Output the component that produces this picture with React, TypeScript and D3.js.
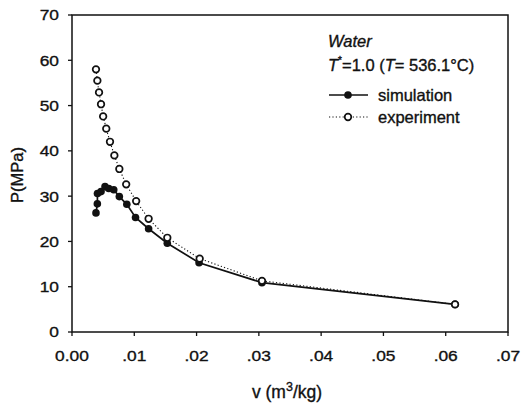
import React from "react";
import * as d3 from "d3";

const simV = [0.00385, 0.00407, 0.00409, 0.00466, 0.0053, 0.0059, 0.0067, 0.0076, 0.0088, 0.0102, 0.0123, 0.0153, 0.0204, 0.0305, 0.0615];
const simP = [26.3, 28.3, 30.6, 31.0, 32.1, 31.7, 31.4, 29.9, 28.2, 25.3, 22.8, 19.6, 15.3, 10.9, 6.1];
const expV = [0.00385, 0.00407, 0.00434, 0.00466, 0.0050, 0.0055, 0.0061, 0.0068, 0.0076, 0.0087, 0.0103, 0.0123, 0.0153, 0.0205, 0.0305, 0.0615];
const expP = [58.0, 55.5, 52.9, 50.3, 47.6, 44.9, 42.0, 39.0, 36.0, 32.6, 28.9, 25.0, 20.8, 16.2, 11.3, 6.1];
const xTicks = [0, 0.01, 0.02, 0.03, 0.04, 0.05, 0.06, 0.07];
const xTickLabels = ["0.00", ".01", ".02", ".03", ".04", ".05", ".06", ".07"];
const yTicks = [0, 10, 20, 30, 40, 50, 60, 70];

export default function App() {
  const W = 528, H = 405;
  const L = 72, R = 508, T = 15, B = 332;
  const x = d3.scaleLinear().domain([0, 0.07]).range([L, R]);
  const y = d3.scaleLinear().domain([0, 70]).range([B, T]);
  const sim = simV.map((v, i) => [v, simP[i]] as [number, number]);
  const exp = expV.map((v, i) => [v, expP[i]] as [number, number]);
  const line = d3.line<[number, number]>().x(d => x(d[0])).y(d => y(d[1]));
  const font = "'Liberation Sans', Arial, sans-serif";
  const ink = "#111";
  const tStroke = { stroke: ink, strokeWidth: 0.35 };
  return (
    <svg width={W} height={H} style={{ position: "absolute", left: 0, top: 0, background: "#fff" }} fontFamily={font}>
      <rect x={0} y={0} width={W} height={H} fill="#fff" />
      {/* frame */}
      <rect x={L} y={T} width={R - L} height={B - T} fill="none" stroke={ink} strokeWidth={1.5} />
      {/* x ticks */}
      {xTicks.map((t, i) => (
        <g key={"x" + i}>
          <line x1={x(t)} x2={x(t)} y1={B} y2={B + 4} stroke={ink} strokeWidth={1.3} />
          <text x={x(t)} y={361} textAnchor="middle" fontSize={15.5} fill={ink} {...tStroke} transform={`translate(${x(t)},0) scale(1.12,1) translate(${-x(t)},0)`}>{xTickLabels[i]}</text>
        </g>
      ))}
      {/* y ticks */}
      {yTicks.map((t, i) => (
        <g key={"y" + i}>
          <line x1={L - 4} x2={L} y1={y(t)} y2={y(t)} stroke={ink} strokeWidth={1.3} />
          <text x={59} y={y(t) + 5.5} textAnchor="end" fontSize={15.5} fill={ink} {...tStroke} transform={`translate(59,0) scale(1.12,1) translate(-59,0)`}>{t}</text>
        </g>
      ))}
      {/* axis labels */}
      <text x={287} y={398} textAnchor="middle" fontSize={17.5} fill={ink} {...tStroke}>
        v (m<tspan dy={-7} fontSize={12.5}>3</tspan><tspan dy={7}>/kg)</tspan>
      </text>
      <text transform="translate(23,175) rotate(-90)" textAnchor="middle" fontSize={16.5} fill={ink} {...tStroke}>P(MPa)</text>
      {/* series */}
      <path d={line(exp) || ""} fill="none" stroke={ink} strokeWidth={1.1} strokeDasharray="1.2,2.2" />
      <path d={line(sim) || ""} fill="none" stroke={ink} strokeWidth={1.7} />
      {sim.map((d, i) => (
        <circle key={"s" + i} cx={x(d[0])} cy={y(d[1])} r={3.8} fill={ink} />
      ))}
      {exp.map((d, i) => (
        <circle key={"e" + i} cx={x(d[0])} cy={y(d[1])} r={3.3} fill="#fff" stroke={ink} strokeWidth={1.7} />
      ))}
      {/* legend */}
      <text x={328} y={47} fontSize={16.5} fontStyle="italic" fill={ink} {...tStroke}>Water</text>
      <text x={328} y={71} fontSize={16.5} fill={ink} {...tStroke}>
        <tspan fontStyle="italic">T</tspan><tspan dy={-7} fontSize={10}>*</tspan><tspan dy={7}>=1.0 (</tspan><tspan fontStyle="italic">T</tspan><tspan>= 536.1°C)</tspan>
      </text>
      <line x1={329} x2={368} y1={95} y2={95} stroke={ink} strokeWidth={1.7} />
      <circle cx={348} cy={95} r={3.8} fill={ink} />
      <text x={378} y={101} fontSize={16.5} fill={ink} {...tStroke}>simulation</text>
      <line x1={329} x2={368} y1={117} y2={117} stroke={ink} strokeWidth={1.1} strokeDasharray="1.2,2.2" />
      <circle cx={348} cy={117} r={3.3} fill="#fff" stroke={ink} strokeWidth={1.7} />
      <text x={378} y={123} fontSize={16.5} fill={ink} {...tStroke}>experiment</text>
    </svg>
  );
}
